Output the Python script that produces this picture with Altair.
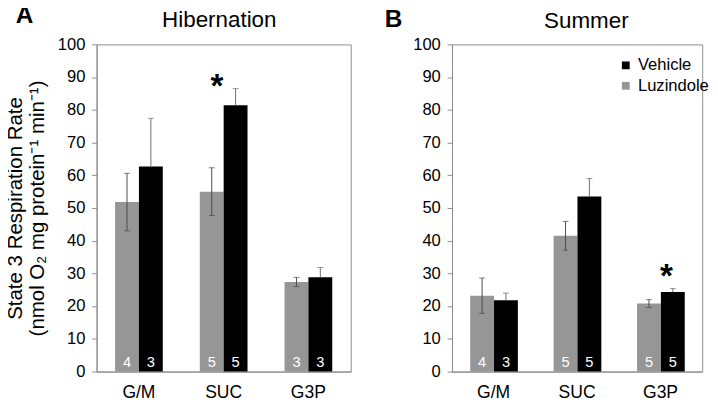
import altair as alt
import pandas as pd

# ---- data ----
categories = ["G/M", "SUC", "G3P"]
treatments = ["Luzindole", "Vehicle"]
panel_letters = ["A", "B"]
panel_titles = ["Hibernation", "Summer"]
y_ticks = [0, 10, 20, 30, 40, 50, 60, 70, 80, 90, 100]
y_title = ["State 3 Respiration Rate", "(nmol O\u2082 mg protein\u207b\u00b9 min\u207b\u00b9)"]

hib_luz = [51.8, 55.0, 27.4]
hib_luz_err = [8.8, 7.3, 1.4]
hib_veh = [62.7, 81.4, 28.8]
hib_veh_err = [14.7, 5.1, 3.0]
hib_n_luz = [4, 5, 3]
hib_n_veh = [3, 5, 3]

sum_luz = [23.2, 41.5, 20.8]
sum_luz_err = [5.4, 4.4, 1.2]
sum_veh = [21.8, 53.5, 24.3]
sum_veh_err = [2.2, 5.5, 1.1]
sum_n_luz = [4, 5, 5]
sum_n_veh = [3, 5, 5]

hib_star_cat = ["SUC"]
hib_star_y = [87.0]
sum_star_cat = ["G3P"]
sum_star_y = [28.8]

FONT = "Liberation Sans"
GRAY_BAR = "#969696"
FRAME = "#8c8c8c"


def build_df(luz, luz_err, veh, veh_err, n_luz, n_veh):
    rows = []
    for i, c in enumerate(categories):
        rows.append(dict(category=c, treatment="Luzindole", mean=luz[i],
                         lo=luz[i] - luz_err[i], hi=luz[i] + luz_err[i], n=str(n_luz[i])))
        rows.append(dict(category=c, treatment="Vehicle", mean=veh[i],
                         lo=veh[i], hi=veh[i] + veh_err[i], n=str(n_veh[i])))
    return pd.DataFrame(rows)


def panel(df, letter, title, star_cat, star_y, star_dx, width, height,
          letter_pos, title_pos, show_ytitle, legend):
    xscale = alt.Scale(domain=categories, paddingInner=0.437, paddingOuter=0.218)
    xaxis = alt.Axis(title=None, labelAngle=0, ticks=False, labelFontSize=18,
                     labelPadding=13, labelColor="black", domainColor=FRAME,
                     labelFont=FONT)
    yaxis = alt.Axis(values=y_ticks, grid=False, labelFontSize=17, labelColor="black",
                     labelFont=FONT, tickSize=5, tickColor=FRAME, domainColor=FRAME,
                     labelPadding=7,
                     title=y_title if show_ytitle else None,
                     titleFontSize=21, titleFontWeight="normal", titleFont=FONT,
                     titleColor="black", titleLineHeight=23, titlePadding=10)
    yscale = alt.Scale(domain=[0, 100], nice=False)

    X = alt.X("category:N", sort=categories, scale=xscale, axis=xaxis)
    XO = alt.XOffset("treatment:N", sort=treatments,
                     scale=alt.Scale(domain=treatments, paddingInner=0, paddingOuter=0))

    base = alt.Chart(df)
    bars = base.mark_bar().encode(
        x=X, xOffset=XO,
        y=alt.Y("mean:Q", scale=yscale, axis=yaxis),
        color=alt.Color("treatment:N",
                        scale=alt.Scale(domain=["Vehicle", "Luzindole"],
                                        range=["#000000", GRAY_BAR]),
                        legend=legend),
    )
    luz = base.transform_filter(alt.datum.treatment == "Luzindole")
    veh = base.transform_filter(alt.datum.treatment == "Vehicle")
    luz_rule = luz.mark_rule(color="#4a4a4a", strokeWidth=1).encode(
        x=X, xOffset=XO, y=alt.Y("lo:Q", scale=yscale, axis=yaxis), y2="hi:Q")
    luz_cap_hi = luz.mark_tick(color="#4a4a4a", size=6, thickness=1).encode(
        x=X, xOffset=XO, y=alt.Y("hi:Q", scale=yscale, axis=yaxis))
    luz_cap_lo = luz.mark_tick(color="#4a4a4a", size=6, thickness=1).encode(
        x=X, xOffset=XO, y=alt.Y("lo:Q", scale=yscale, axis=yaxis))
    veh_rule = veh.mark_rule(color="#6e6e6e", strokeWidth=1).encode(
        x=X, xOffset=XO, y=alt.Y("lo:Q", scale=yscale, axis=yaxis), y2="hi:Q")
    veh_cap = veh.mark_tick(color="#6e6e6e", size=6, thickness=1).encode(
        x=X, xOffset=XO, y=alt.Y("hi:Q", scale=yscale, axis=yaxis))
    nlab = base.mark_text(color="white", fontSize=15, font=FONT,
                          baseline="alphabetic", align="center").encode(
        x=X, xOffset=XO, y=alt.value(height - 5), text="n:N")

    star_df = pd.DataFrame({"category": star_cat, "pos": star_y, "s": ["*"] * len(star_cat)})
    star = alt.Chart(star_df).mark_text(fontSize=34, fontWeight="bold", font=FONT,
                                        dx=star_dx, baseline="middle",
                                        align="center", color="black").encode(
        x=X, y=alt.Y("pos:Q", scale=yscale, axis=yaxis), text="s:N")

    let_df = pd.DataFrame({"t": [letter]})
    let = alt.Chart(let_df).mark_text(fontSize=25, fontWeight="bold", font=FONT,
                                      align="center", baseline="middle",
                                      color="black").encode(
        text="t:N", x=alt.value(letter_pos[0]), y=alt.value(letter_pos[1]))

    ttl_df = pd.DataFrame({"t": [title]})
    ttl = alt.Chart(ttl_df).mark_text(fontSize=23, font=FONT, align="center",
                                      baseline="alphabetic", color="black").encode(
        text="t:N", x=alt.value(title_pos[0]), y=alt.value(title_pos[1]))

    return alt.layer(bars, luz_rule, luz_cap_hi, luz_cap_lo, veh_rule, veh_cap,
                     nlab, star, let, ttl).properties(width=width, height=height)


dfA = build_df(hib_luz, hib_luz_err, hib_veh, hib_veh_err, hib_n_luz, hib_n_veh)
dfB = build_df(sum_luz, sum_luz_err, sum_veh, sum_veh_err, sum_n_luz, sum_n_veh)

legendB = alt.Legend(orient="none", legendX=170, legendY=13, title=None,
                     symbolType="square", symbolSize=64, symbolStrokeWidth=0,
                     labelFontSize=17, labelFont=FONT, labelColor="black",
                     rowPadding=3, labelOffset=4)

pA = panel(dfA, panel_letters[0], panel_titles[0], hib_star_cat, hib_star_y, -7,
           261, 336, (-74, -30), (126, -18), True, None)
pB = panel(dfB, panel_letters[1], panel_titles[1], sum_star_cat, sum_star_y, 6,
           257, 336, (-60, -26), (138, -17), False, legendB)

chart = alt.hconcat(pA, pB, spacing=33).resolve_scale(color="independent").configure_view(
    stroke=FRAME, strokeWidth=1).properties(
    padding={"left": -4, "top": -11, "right": 0, "bottom": 0})

chart.save("out.html", embed_options={"renderer": "svg", "actions": False})
